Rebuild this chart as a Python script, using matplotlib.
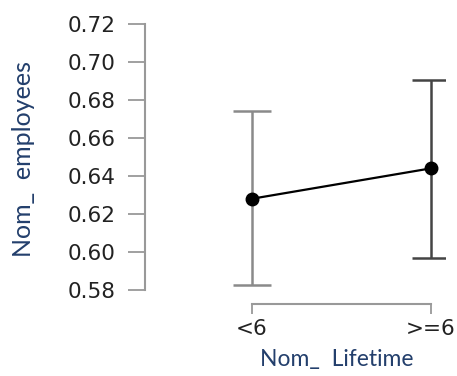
import matplotlib
matplotlib.use('Agg')
import matplotlib.pyplot as plt

groups = ['<6', '>=6']
means = [0.628, 0.644]
lower = [0.5826, 0.5968]
upper = [0.674, 0.6905]
yticks = [0.58, 0.60, 0.62, 0.64, 0.66, 0.68, 0.70, 0.72]

plt.rcParams['font.family'] = ['DejaVu Sans']

fig = plt.figure(figsize=(4.57, 3.76), dpi=100)
ax = fig.add_axes([0.3173, 0.1915, 0.6565, 0.7686])

x = list(range(len(groups)))
bar_colors = ['#8a8a8a', '#444444']
for i in x:
	ax.errorbar(x[i], means[i], yerr=[[means[i] - lower[i]], [upper[i] - means[i]]],
		fmt='none', ecolor=bar_colors[i], elinewidth=1.8, capsize=13.5, capthick=1.8)
ax.plot(x, means, color='black', lw=1.6, marker='o', ms=9, zorder=3)

ax.set_xlim(-0.598, 1.078)
ax.set_ylim(0.5726, 0.7247)
ax.set_xticks(x)
ax.set_xticklabels(groups)
ax.set_yticks(yticks)
ax.set_yticklabels(['%.2f' % v for v in yticks])

for s in ['top', 'right']:
	ax.spines[s].set_visible(False)
ax.spines['left'].set_bounds(0.58, 0.72)
ax.spines['bottom'].set_bounds(0, 1)
for s in ['left', 'bottom']:
	ax.spines[s].set_color('#999999')
	ax.spines[s].set_linewidth(1.5)

ax.tick_params(axis='y', length=12, width=1.3, color='#999999', pad=9, labelsize=15.5, labelcolor='#222222')
ax.tick_params(axis='x', length=7, width=1.3, color='#999999', pad=4, labelsize=15.5, labelcolor='#222222')

ax.set_ylabel('Nom_  employees', fontsize=18, color='#233f6c', family='Lato')
ax.set_xlabel('Nom_  Lifetime', fontsize=16.5, color='#233f6c', family='Lato')
ax.yaxis.set_label_coords(-0.365, 0.5)
ax.xaxis.set_label_coords(0.64, -0.155)

fig.savefig('out.png', dpi=100)
